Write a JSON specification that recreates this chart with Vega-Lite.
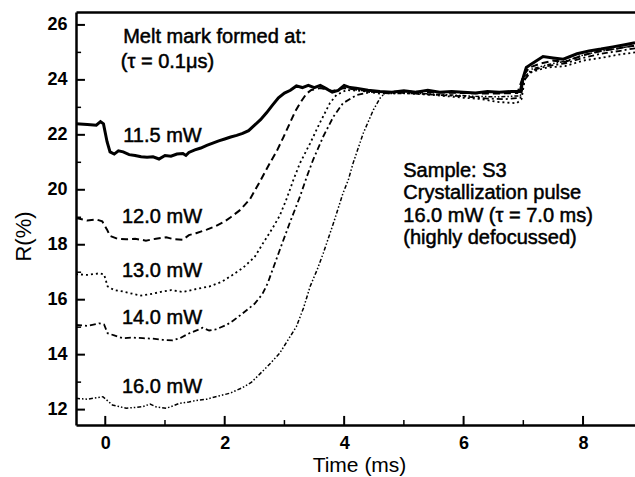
{
  "$schema": "https://vega.github.io/schema/vega-lite/v6.json",
  "width": 559,
  "height": 413,
  "autosize": {"type": "none"},
  "padding": {"left": 76, "top": 12, "right": 0, "bottom": 52},
  "background": "white",
  "config": {
    "view": {"stroke": null},
    "font": "Liberation Sans",
    "axis": {
      "grid": false,
      "domainColor": "black",
      "domainWidth": 2.5,
      "labelColor": "black",
      "titleColor": "black",
      "labelFontSize": 18,
      "titleFontWeight": "normal",
      "labelFlush": false
    }
  },
  "datasets": {
    "curves": [
      {"power": "11.5 mW", "t": -0.49, "R": 22.40}, {"power": "11.5 mW", "t": -0.3, "R": 22.38}, {"power": "11.5 mW", "t": -0.15, "R": 22.35}, {"power": "11.5 mW", "t": -0.08, "R": 22.48}, {"power": "11.5 mW", "t": -0.03, "R": 22.40},
      {"power": "11.5 mW", "t": 0.03, "R": 21.75}, {"power": "11.5 mW", "t": 0.08, "R": 21.38}, {"power": "11.5 mW", "t": 0.15, "R": 21.30}, {"power": "11.5 mW", "t": 0.22, "R": 21.42}, {"power": "11.5 mW", "t": 0.3, "R": 21.38},
      {"power": "11.5 mW", "t": 0.4, "R": 21.28}, {"power": "11.5 mW", "t": 0.5, "R": 21.25}, {"power": "11.5 mW", "t": 0.6, "R": 21.20}, {"power": "11.5 mW", "t": 0.7, "R": 21.18}, {"power": "11.5 mW", "t": 0.8, "R": 21.20},
      {"power": "11.5 mW", "t": 0.9, "R": 21.12}, {"power": "11.5 mW", "t": 1.0, "R": 21.25}, {"power": "11.5 mW", "t": 1.1, "R": 21.22}, {"power": "11.5 mW", "t": 1.2, "R": 21.30}, {"power": "11.5 mW", "t": 1.3, "R": 21.32},
      {"power": "11.5 mW", "t": 1.35, "R": 21.25}, {"power": "11.5 mW", "t": 1.4, "R": 21.36}, {"power": "11.5 mW", "t": 1.5, "R": 21.45}, {"power": "11.5 mW", "t": 1.6, "R": 21.52}, {"power": "11.5 mW", "t": 1.7, "R": 21.62},
      {"power": "11.5 mW", "t": 1.8, "R": 21.70}, {"power": "11.5 mW", "t": 1.9, "R": 21.78}, {"power": "11.5 mW", "t": 2.0, "R": 21.85}, {"power": "11.5 mW", "t": 2.1, "R": 21.92}, {"power": "11.5 mW", "t": 2.2, "R": 21.98},
      {"power": "11.5 mW", "t": 2.3, "R": 22.05}, {"power": "11.5 mW", "t": 2.4, "R": 22.15}, {"power": "11.5 mW", "t": 2.5, "R": 22.35}, {"power": "11.5 mW", "t": 2.6, "R": 22.55}, {"power": "11.5 mW", "t": 2.7, "R": 22.80},
      {"power": "11.5 mW", "t": 2.8, "R": 23.08}, {"power": "11.5 mW", "t": 2.9, "R": 23.35}, {"power": "11.5 mW", "t": 3.0, "R": 23.52}, {"power": "11.5 mW", "t": 3.1, "R": 23.62}, {"power": "11.5 mW", "t": 3.2, "R": 23.78},
      {"power": "11.5 mW", "t": 3.3, "R": 23.72}, {"power": "11.5 mW", "t": 3.4, "R": 23.80}, {"power": "11.5 mW", "t": 3.5, "R": 23.72}, {"power": "11.5 mW", "t": 3.6, "R": 23.80}, {"power": "11.5 mW", "t": 3.7, "R": 23.68},
      {"power": "11.5 mW", "t": 3.8, "R": 23.55}, {"power": "11.5 mW", "t": 3.9, "R": 23.62}, {"power": "11.5 mW", "t": 4.0, "R": 23.80}, {"power": "11.5 mW", "t": 4.1, "R": 23.72}, {"power": "11.5 mW", "t": 4.2, "R": 23.70},
      {"power": "11.5 mW", "t": 4.4, "R": 23.62}, {"power": "11.5 mW", "t": 4.6, "R": 23.58}, {"power": "11.5 mW", "t": 4.8, "R": 23.55}, {"power": "11.5 mW", "t": 5.0, "R": 23.60}, {"power": "11.5 mW", "t": 5.2, "R": 23.55},
      {"power": "11.5 mW", "t": 5.4, "R": 23.62}, {"power": "11.5 mW", "t": 5.6, "R": 23.55}, {"power": "11.5 mW", "t": 5.8, "R": 23.58}, {"power": "11.5 mW", "t": 6.0, "R": 23.55}, {"power": "11.5 mW", "t": 6.2, "R": 23.52},
      {"power": "11.5 mW", "t": 6.4, "R": 23.58}, {"power": "11.5 mW", "t": 6.6, "R": 23.55}, {"power": "11.5 mW", "t": 6.8, "R": 23.58}, {"power": "11.5 mW", "t": 6.95, "R": 23.58}, {"power": "11.5 mW", "t": 7.0, "R": 24.1},
      {"power": "11.5 mW", "t": 7.05, "R": 24.45}, {"power": "11.5 mW", "t": 7.15, "R": 24.6}, {"power": "11.5 mW", "t": 7.33, "R": 24.85}, {"power": "11.5 mW", "t": 7.5, "R": 24.8}, {"power": "11.5 mW", "t": 7.67, "R": 24.75},
      {"power": "11.5 mW", "t": 7.9, "R": 24.95}, {"power": "11.5 mW", "t": 8.1, "R": 25.05}, {"power": "11.5 mW", "t": 8.3, "R": 25.12}, {"power": "11.5 mW", "t": 8.5, "R": 25.2}, {"power": "11.5 mW", "t": 8.7, "R": 25.28},
      {"power": "11.5 mW", "t": 8.87, "R": 25.35},

      {"power": "12.0 mW", "t": -0.49, "R": 18.97}, {"power": "12.0 mW", "t": -0.3, "R": 18.88}, {"power": "12.0 mW", "t": -0.15, "R": 18.92}, {"power": "12.0 mW", "t": -0.05, "R": 18.85}, {"power": "12.0 mW", "t": 0.03, "R": 18.55},
      {"power": "12.0 mW", "t": 0.08, "R": 18.32}, {"power": "12.0 mW", "t": 0.2, "R": 18.22}, {"power": "12.0 mW", "t": 0.35, "R": 18.20}, {"power": "12.0 mW", "t": 0.5, "R": 18.22}, {"power": "12.0 mW", "t": 0.68, "R": 18.15},
      {"power": "12.0 mW", "t": 0.85, "R": 18.22}, {"power": "12.0 mW", "t": 1.02, "R": 18.27}, {"power": "12.0 mW", "t": 1.15, "R": 18.20}, {"power": "12.0 mW", "t": 1.3, "R": 18.18}, {"power": "12.0 mW", "t": 1.4, "R": 18.35},
      {"power": "12.0 mW", "t": 1.52, "R": 18.42}, {"power": "12.0 mW", "t": 1.7, "R": 18.55}, {"power": "12.0 mW", "t": 1.85, "R": 18.68}, {"power": "12.0 mW", "t": 2.0, "R": 18.85}, {"power": "12.0 mW", "t": 2.1, "R": 19.0},
      {"power": "12.0 mW", "t": 2.25, "R": 19.25}, {"power": "12.0 mW", "t": 2.42, "R": 19.65}, {"power": "12.0 mW", "t": 2.59, "R": 20.3}, {"power": "12.0 mW", "t": 2.75, "R": 20.95}, {"power": "12.0 mW", "t": 2.87, "R": 21.4},
      {"power": "12.0 mW", "t": 2.98, "R": 21.9}, {"power": "12.0 mW", "t": 3.09, "R": 22.42}, {"power": "12.0 mW", "t": 3.18, "R": 22.85}, {"power": "12.0 mW", "t": 3.26, "R": 23.15}, {"power": "12.0 mW", "t": 3.37, "R": 23.5},
      {"power": "12.0 mW", "t": 3.45, "R": 23.63}, {"power": "12.0 mW", "t": 3.6, "R": 23.7}, {"power": "12.0 mW", "t": 3.8, "R": 23.6}, {"power": "12.0 mW", "t": 4.0, "R": 23.7}, {"power": "12.0 mW", "t": 4.3, "R": 23.62},
      {"power": "12.0 mW", "t": 4.6, "R": 23.55}, {"power": "12.0 mW", "t": 5.0, "R": 23.58}, {"power": "12.0 mW", "t": 5.5, "R": 23.55}, {"power": "12.0 mW", "t": 6.0, "R": 23.52}, {"power": "12.0 mW", "t": 6.5, "R": 23.5},
      {"power": "12.0 mW", "t": 6.9, "R": 23.52}, {"power": "12.0 mW", "t": 7.0, "R": 24.15}, {"power": "12.0 mW", "t": 7.1, "R": 24.45}, {"power": "12.0 mW", "t": 7.3, "R": 24.6}, {"power": "12.0 mW", "t": 7.5, "R": 24.7},
      {"power": "12.0 mW", "t": 7.7, "R": 24.65}, {"power": "12.0 mW", "t": 8.0, "R": 24.9}, {"power": "12.0 mW", "t": 8.3, "R": 25.05}, {"power": "12.0 mW", "t": 8.6, "R": 25.15}, {"power": "12.0 mW", "t": 8.87, "R": 25.25},

      {"power": "13.0 mW", "t": -0.49, "R": 16.93}, {"power": "13.0 mW", "t": -0.3, "R": 16.9}, {"power": "13.0 mW", "t": -0.1, "R": 16.96}, {"power": "13.0 mW", "t": -0.02, "R": 16.92}, {"power": "13.0 mW", "t": 0.04, "R": 16.48},
      {"power": "13.0 mW", "t": 0.15, "R": 16.35}, {"power": "13.0 mW", "t": 0.29, "R": 16.3}, {"power": "13.0 mW", "t": 0.45, "R": 16.22}, {"power": "13.0 mW", "t": 0.6, "R": 16.15}, {"power": "13.0 mW", "t": 0.8, "R": 16.22},
      {"power": "13.0 mW", "t": 0.96, "R": 16.3}, {"power": "13.0 mW", "t": 1.1, "R": 16.35}, {"power": "13.0 mW", "t": 1.3, "R": 16.28}, {"power": "13.0 mW", "t": 1.5, "R": 16.38}, {"power": "13.0 mW", "t": 1.74, "R": 16.48},
      {"power": "13.0 mW", "t": 1.95, "R": 16.65}, {"power": "13.0 mW", "t": 2.13, "R": 16.9}, {"power": "13.0 mW", "t": 2.3, "R": 17.15}, {"power": "13.0 mW", "t": 2.5, "R": 17.55}, {"power": "13.0 mW", "t": 2.64, "R": 18.05},
      {"power": "13.0 mW", "t": 2.8, "R": 18.6}, {"power": "13.0 mW", "t": 2.92, "R": 19.05}, {"power": "13.0 mW", "t": 3.04, "R": 19.69}, {"power": "13.0 mW", "t": 3.15, "R": 20.36}, {"power": "13.0 mW", "t": 3.26, "R": 20.97},
      {"power": "13.0 mW", "t": 3.43, "R": 21.69}, {"power": "13.0 mW", "t": 3.59, "R": 22.42}, {"power": "13.0 mW", "t": 3.76, "R": 23.15}, {"power": "13.0 mW", "t": 3.87, "R": 23.45}, {"power": "13.0 mW", "t": 4.04, "R": 23.63},
      {"power": "13.0 mW", "t": 4.3, "R": 23.6}, {"power": "13.0 mW", "t": 4.6, "R": 23.5}, {"power": "13.0 mW", "t": 5.0, "R": 23.52}, {"power": "13.0 mW", "t": 5.5, "R": 23.45}, {"power": "13.0 mW", "t": 6.0, "R": 23.35},
      {"power": "13.0 mW", "t": 6.3, "R": 23.3}, {"power": "13.0 mW", "t": 6.55, "R": 23.2}, {"power": "13.0 mW", "t": 6.89, "R": 23.15}, {"power": "13.0 mW", "t": 6.97, "R": 23.3}, {"power": "13.0 mW", "t": 7.03, "R": 24.1},
      {"power": "13.0 mW", "t": 7.15, "R": 24.3}, {"power": "13.0 mW", "t": 7.4, "R": 24.45}, {"power": "13.0 mW", "t": 7.7, "R": 24.5}, {"power": "13.0 mW", "t": 8.0, "R": 24.7}, {"power": "13.0 mW", "t": 8.3, "R": 24.8},
      {"power": "13.0 mW", "t": 8.6, "R": 24.92}, {"power": "13.0 mW", "t": 8.87, "R": 25.0},

      {"power": "14.0 mW", "t": -0.49, "R": 15.08}, {"power": "14.0 mW", "t": -0.3, "R": 15.05}, {"power": "14.0 mW", "t": -0.1, "R": 15.14}, {"power": "14.0 mW", "t": -0.02, "R": 15.1}, {"power": "14.0 mW", "t": 0.04, "R": 14.78},
      {"power": "14.0 mW", "t": 0.15, "R": 14.7}, {"power": "14.0 mW", "t": 0.29, "R": 14.6}, {"power": "14.0 mW", "t": 0.45, "R": 14.62}, {"power": "14.0 mW", "t": 0.63, "R": 14.6}, {"power": "14.0 mW", "t": 0.8, "R": 14.58},
      {"power": "14.0 mW", "t": 0.96, "R": 14.54}, {"power": "14.0 mW", "t": 1.13, "R": 14.52}, {"power": "14.0 mW", "t": 1.25, "R": 14.6}, {"power": "14.0 mW", "t": 1.41, "R": 14.78}, {"power": "14.0 mW", "t": 1.55, "R": 14.9},
      {"power": "14.0 mW", "t": 1.63, "R": 14.98}, {"power": "14.0 mW", "t": 1.74, "R": 14.88}, {"power": "14.0 mW", "t": 1.85, "R": 14.92}, {"power": "14.0 mW", "t": 2.03, "R": 15.08}, {"power": "14.0 mW", "t": 2.15, "R": 15.25},
      {"power": "14.0 mW", "t": 2.3, "R": 15.5}, {"power": "14.0 mW", "t": 2.5, "R": 15.85}, {"power": "14.0 mW", "t": 2.63, "R": 16.2}, {"power": "14.0 mW", "t": 2.72, "R": 16.6}, {"power": "14.0 mW", "t": 2.82, "R": 17.2},
      {"power": "14.0 mW", "t": 2.92, "R": 17.8}, {"power": "14.0 mW", "t": 3.09, "R": 18.8}, {"power": "14.0 mW", "t": 3.26, "R": 19.75}, {"power": "14.0 mW", "t": 3.37, "R": 20.45}, {"power": "14.0 mW", "t": 3.48, "R": 21.09},
      {"power": "14.0 mW", "t": 3.65, "R": 21.94}, {"power": "14.0 mW", "t": 3.82, "R": 22.66}, {"power": "14.0 mW", "t": 3.98, "R": 23.15}, {"power": "14.0 mW", "t": 4.21, "R": 23.45}, {"power": "14.0 mW", "t": 4.49, "R": 23.57},
      {"power": "14.0 mW", "t": 4.8, "R": 23.55}, {"power": "14.0 mW", "t": 5.2, "R": 23.5}, {"power": "14.0 mW", "t": 5.6, "R": 23.45}, {"power": "14.0 mW", "t": 6.0, "R": 23.4}, {"power": "14.0 mW", "t": 6.4, "R": 23.32},
      {"power": "14.0 mW", "t": 6.7, "R": 23.3}, {"power": "14.0 mW", "t": 6.95, "R": 23.35}, {"power": "14.0 mW", "t": 7.02, "R": 24.0}, {"power": "14.0 mW", "t": 7.15, "R": 24.35}, {"power": "14.0 mW", "t": 7.4, "R": 24.5},
      {"power": "14.0 mW", "t": 7.7, "R": 24.6}, {"power": "14.0 mW", "t": 8.0, "R": 24.8}, {"power": "14.0 mW", "t": 8.3, "R": 24.95}, {"power": "14.0 mW", "t": 8.6, "R": 25.05}, {"power": "14.0 mW", "t": 8.87, "R": 25.15},

      {"power": "16.0 mW", "t": -0.49, "R": 12.41}, {"power": "16.0 mW", "t": -0.3, "R": 12.38}, {"power": "16.0 mW", "t": -0.15, "R": 12.43}, {"power": "16.0 mW", "t": -0.04, "R": 12.47}, {"power": "16.0 mW", "t": 0.05, "R": 12.3},
      {"power": "16.0 mW", "t": 0.12, "R": 12.17}, {"power": "16.0 mW", "t": 0.25, "R": 12.1}, {"power": "16.0 mW", "t": 0.35, "R": 12.05}, {"power": "16.0 mW", "t": 0.5, "R": 12.08}, {"power": "16.0 mW", "t": 0.63, "R": 12.11},
      {"power": "16.0 mW", "t": 0.75, "R": 12.2}, {"power": "16.0 mW", "t": 0.85, "R": 12.1}, {"power": "16.0 mW", "t": 1.02, "R": 12.05}, {"power": "16.0 mW", "t": 1.15, "R": 12.15}, {"power": "16.0 mW", "t": 1.24, "R": 12.23},
      {"power": "16.0 mW", "t": 1.4, "R": 12.28}, {"power": "16.0 mW", "t": 1.57, "R": 12.35}, {"power": "16.0 mW", "t": 1.7, "R": 12.38}, {"power": "16.0 mW", "t": 1.85, "R": 12.47}, {"power": "16.0 mW", "t": 2.0, "R": 12.55},
      {"power": "16.0 mW", "t": 2.09, "R": 12.6}, {"power": "16.0 mW", "t": 2.3, "R": 12.8}, {"power": "16.0 mW", "t": 2.45, "R": 13.0}, {"power": "16.0 mW", "t": 2.59, "R": 13.3}, {"power": "16.0 mW", "t": 2.75, "R": 13.65},
      {"power": "16.0 mW", "t": 2.92, "R": 14.05}, {"power": "16.0 mW", "t": 3.05, "R": 14.5}, {"power": "16.0 mW", "t": 3.2, "R": 15.02}, {"power": "16.0 mW", "t": 3.32, "R": 15.7}, {"power": "16.0 mW", "t": 3.43, "R": 16.48},
      {"power": "16.0 mW", "t": 3.55, "R": 17.1}, {"power": "16.0 mW", "t": 3.65, "R": 17.69}, {"power": "16.0 mW", "t": 3.82, "R": 18.78}, {"power": "16.0 mW", "t": 3.98, "R": 19.87}, {"power": "16.0 mW", "t": 4.07, "R": 20.36},
      {"power": "16.0 mW", "t": 4.15, "R": 20.97}, {"power": "16.0 mW", "t": 4.32, "R": 22.06}, {"power": "16.0 mW", "t": 4.49, "R": 22.91}, {"power": "16.0 mW", "t": 4.6, "R": 23.33}, {"power": "16.0 mW", "t": 4.68, "R": 23.51},
      {"power": "16.0 mW", "t": 4.9, "R": 23.5}, {"power": "16.0 mW", "t": 5.3, "R": 23.5}, {"power": "16.0 mW", "t": 5.8, "R": 23.45}, {"power": "16.0 mW", "t": 6.2, "R": 23.4}, {"power": "16.0 mW", "t": 6.6, "R": 23.38},
      {"power": "16.0 mW", "t": 6.95, "R": 23.42}, {"power": "16.0 mW", "t": 7.02, "R": 24.1}, {"power": "16.0 mW", "t": 7.15, "R": 24.4}, {"power": "16.0 mW", "t": 7.4, "R": 24.55}, {"power": "16.0 mW", "t": 7.7, "R": 24.68},
      {"power": "16.0 mW", "t": 8.0, "R": 24.9}, {"power": "16.0 mW", "t": 8.3, "R": 25.05}, {"power": "16.0 mW", "t": 8.6, "R": 25.15}, {"power": "16.0 mW", "t": 8.87, "R": 25.25}
    ],
    "xMajor": [{"t": 0}, {"t": 2}, {"t": 4}, {"t": 6}, {"t": 8}],
    "xMinor": [{"t": 1}, {"t": 3}, {"t": 5}, {"t": 7}],
    "yMajor": [{"R": 12}, {"R": 14}, {"R": 16}, {"R": 18}, {"R": 20}, {"R": 22}, {"R": 24}, {"R": 26}],
    "yMinor": [{"R": 13}, {"R": 15}, {"R": 17}, {"R": 19}, {"R": 21}, {"R": 23}, {"R": 25}],
    "curveLabels": [
      {"t": 0.30, "R": 21.75, "label": "11.5 mW"},
      {"t": 0.28, "R": 18.78, "label": "12.0 mW"},
      {"t": 0.28, "R": 16.84, "label": "13.0 mW"},
      {"t": 0.28, "R": 15.11, "label": "14.0 mW"},
      {"t": 0.28, "R": 12.60, "label": "16.0 mW"}
    ],
    "sampleNotes": [
      {"t": 4.99, "R": 20.48, "label": "Sample: S3"},
      {"t": 4.99, "R": 19.66, "label": "Crystallization pulse"},
      {"t": 4.99, "R": 18.83, "label": "16.0 mW (τ = 7.0 ms)"},
      {"t": 4.99, "R": 18.01, "label": "(highly defocussed)"}
    ],
    "header": [
      {"t": 0.30, "R": 25.33, "label": "Melt mark formed at:"},
      {"t": 0.26, "R": 24.42, "label": "(τ = 0.1μs)"}
    ]
  },
  "layer": [
    {
      "data": {"name": "curves"},
      "transform": [{"filter": {"field": "power", "equal": "11.5 mW"}}],
      "mark": {"type": "line", "color": "black", "clip": true, "strokeWidth": 3},
      "encoding": {
        "x": {
          "field": "t", "type": "quantitative",
          "scale": {"domain": [-0.49, 8.87], "nice": false, "zero": false},
          "axis": {
            "orient": "bottom", "values": [0, 2, 4, 6, 8], "ticks": false,
            "labelPadding": 23, "labelBaseline": "alphabetic", "labelFontWeight": "bold",
            "title": "Time (ms)", "titleFontSize": 21, "titleX": 283, "titleY": 46,
            "titleBaseline": "alphabetic", "titleAlign": "center"
          }
        },
        "y": {
          "field": "R", "type": "quantitative",
          "scale": {"domain": [11.44, 26.47], "nice": false, "zero": false},
          "axis": {
            "orient": "left", "values": [12, 14, 16, 18, 20, 22, 24, 26], "ticks": false,
            "labelPadding": 9, "labelFontWeight": "bold",
            "title": "R(%)", "titleFontSize": 22, "titleX": -46, "titleY": 224,
            "titleBaseline": "alphabetic", "titleAlign": "center", "titleAngle": -90
          }
        }
      }
    },
    {
      "data": {"name": "curves"},
      "transform": [{"filter": {"field": "power", "equal": "12.0 mW"}}],
      "mark": {"type": "line", "color": "black", "clip": true, "strokeWidth": 2, "strokeDash": [7, 4]},
      "encoding": {
        "x": {"field": "t", "type": "quantitative", "scale": {"domain": [-0.49, 8.87], "nice": false, "zero": false}, "axis": null},
        "y": {"field": "R", "type": "quantitative", "scale": {"domain": [11.44, 26.47], "nice": false, "zero": false}, "axis": null}
      }
    },
    {
      "data": {"name": "curves"},
      "transform": [{"filter": {"field": "power", "equal": "13.0 mW"}}],
      "mark": {"type": "line", "color": "black", "clip": true, "strokeWidth": 1.8, "strokeDash": [2, 3]},
      "encoding": {
        "x": {"field": "t", "type": "quantitative", "scale": {"domain": [-0.49, 8.87], "nice": false, "zero": false}, "axis": null},
        "y": {"field": "R", "type": "quantitative", "scale": {"domain": [11.44, 26.47], "nice": false, "zero": false}, "axis": null}
      }
    },
    {
      "data": {"name": "curves"},
      "transform": [{"filter": {"field": "power", "equal": "14.0 mW"}}],
      "mark": {"type": "line", "color": "black", "clip": true, "strokeWidth": 1.8, "strokeDash": [6, 3, 2, 3]},
      "encoding": {
        "x": {"field": "t", "type": "quantitative", "scale": {"domain": [-0.49, 8.87], "nice": false, "zero": false}, "axis": null},
        "y": {"field": "R", "type": "quantitative", "scale": {"domain": [11.44, 26.47], "nice": false, "zero": false}, "axis": null}
      }
    },
    {
      "data": {"name": "curves"},
      "transform": [{"filter": {"field": "power", "equal": "16.0 mW"}}],
      "mark": {"type": "line", "color": "black", "clip": true, "strokeWidth": 1.5, "strokeDash": [4, 2, 1.5, 2, 1.5, 2]},
      "encoding": {
        "x": {"field": "t", "type": "quantitative", "scale": {"domain": [-0.49, 8.87], "nice": false, "zero": false}, "axis": null},
        "y": {"field": "R", "type": "quantitative", "scale": {"domain": [11.44, 26.47], "nice": false, "zero": false}, "axis": null}
      }
    },
    {
      "data": {"name": "xMajor"},
      "mark": {"type": "rule", "color": "black", "strokeWidth": 2},
      "encoding": {
        "x": {"field": "t", "type": "quantitative", "scale": {"domain": [-0.49, 8.87], "nice": false, "zero": false}, "axis": null},
        "y": {"datum": 11.44, "type": "quantitative", "scale": {"domain": [11.44, 26.47], "nice": false, "zero": false}, "axis": null},
        "y2": {"datum": 11.77}
      }
    },
    {
      "data": {"name": "xMinor"},
      "mark": {"type": "rule", "color": "black", "strokeWidth": 1.5},
      "encoding": {
        "x": {"field": "t", "type": "quantitative", "scale": {"domain": [-0.49, 8.87], "nice": false, "zero": false}, "axis": null},
        "y": {"datum": 11.44, "type": "quantitative", "scale": {"domain": [11.44, 26.47], "nice": false, "zero": false}, "axis": null},
        "y2": {"datum": 11.62}
      }
    },
    {
      "data": {"name": "yMajor"},
      "mark": {"type": "rule", "color": "black", "strokeWidth": 2},
      "encoding": {
        "y": {"field": "R", "type": "quantitative", "scale": {"domain": [11.44, 26.47], "nice": false, "zero": false}, "axis": null},
        "x": {"datum": -0.49, "type": "quantitative", "scale": {"domain": [-0.49, 8.87], "nice": false, "zero": false}, "axis": null},
        "x2": {"datum": -0.34}
      }
    },
    {
      "data": {"name": "yMinor"},
      "mark": {"type": "rule", "color": "black", "strokeWidth": 1.5},
      "encoding": {
        "y": {"field": "R", "type": "quantitative", "scale": {"domain": [11.44, 26.47], "nice": false, "zero": false}, "axis": null},
        "x": {"datum": -0.49, "type": "quantitative", "scale": {"domain": [-0.49, 8.87], "nice": false, "zero": false}, "axis": null},
        "x2": {"datum": -0.405}
      }
    },
    {
      "data": {"name": "curveLabels"},
      "mark": {"type": "text", "align": "left", "baseline": "alphabetic", "fontSize": 20, "color": "black", "stroke": "black", "strokeWidth": 0.5},
      "encoding": {
        "x": {"field": "t", "type": "quantitative", "scale": {"domain": [-0.49, 8.87], "nice": false, "zero": false}, "axis": null},
        "y": {"field": "R", "type": "quantitative", "scale": {"domain": [11.44, 26.47], "nice": false, "zero": false}, "axis": null},
        "text": {"field": "label", "type": "nominal"}
      }
    },
    {
      "data": {"name": "sampleNotes"},
      "mark": {"type": "text", "align": "left", "baseline": "alphabetic", "fontSize": 20, "color": "black", "stroke": "black", "strokeWidth": 0.5},
      "encoding": {
        "x": {"field": "t", "type": "quantitative", "scale": {"domain": [-0.49, 8.87], "nice": false, "zero": false}, "axis": null},
        "y": {"field": "R", "type": "quantitative", "scale": {"domain": [11.44, 26.47], "nice": false, "zero": false}, "axis": null},
        "text": {"field": "label", "type": "nominal"}
      }
    },
    {
      "data": {"name": "header"},
      "mark": {"type": "text", "align": "left", "baseline": "alphabetic", "fontSize": 20, "color": "black", "stroke": "black", "strokeWidth": 0.5},
      "encoding": {
        "x": {
          "field": "t", "type": "quantitative",
          "scale": {"domain": [-0.49, 8.87], "nice": false, "zero": false},
          "axis": {"orient": "top", "ticks": false, "labels": false, "domain": true, "title": null}
        },
        "y": {"field": "R", "type": "quantitative", "scale": {"domain": [11.44, 26.47], "nice": false, "zero": false}, "axis": null},
        "text": {"field": "label", "type": "nominal"}
      }
    }
  ],
  "resolve": {"axis": {"x": "independent", "y": "independent"}}
}
